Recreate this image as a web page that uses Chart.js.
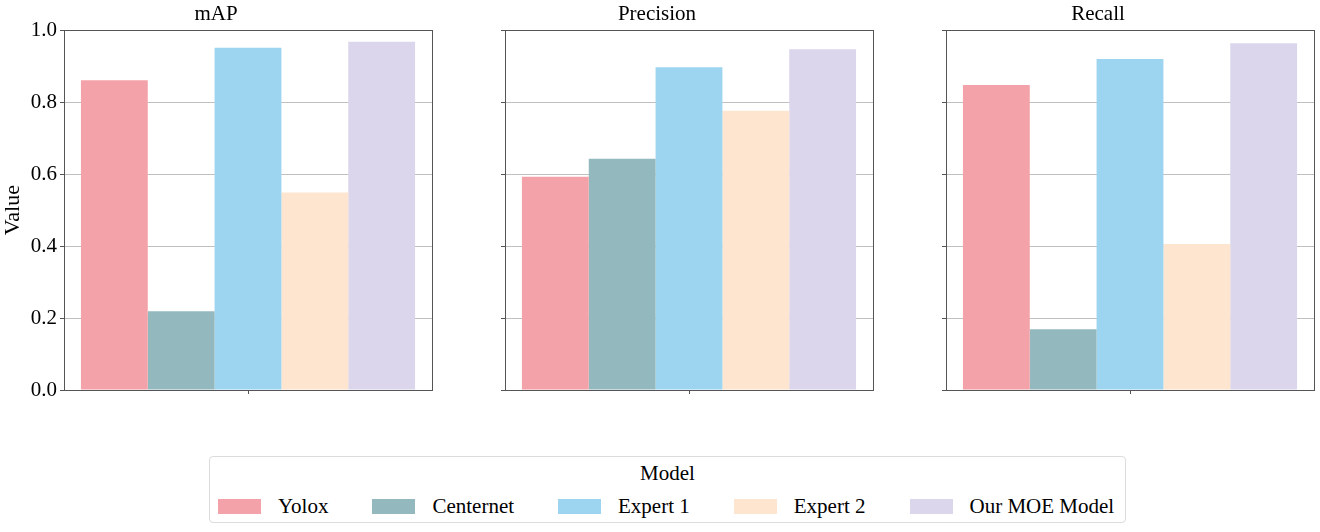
<!DOCTYPE html>
<html>
<head>
<meta charset="utf-8">
<script src="https://cdn.jsdelivr.net/npm/chart.js@4.4.0/dist/chart.umd.min.js"></script>
<style>
  body { margin: 0; width: 1320px; height: 532px; background: #fff; position: relative; overflow: hidden; font-family: "Liberation Serif", "Times New Roman", serif; }
  .panel { position: absolute; top: 0; width: 440px; height: 410px; }
  #legend { position: absolute; left: 209px; top: 456px; width: 917px; height: 67px; border: 1px solid #dcdcdc; border-radius: 4px; box-sizing: border-box; }
  #legend .ltitle { position: absolute; left: 0; right: 0; top: 4px; text-align: center; font-size: 21px; line-height: 24px; color: #000; }
  #legend .litems { position: absolute; left: 8px; top: 37px; display: flex; gap: 44px; font-size: 21px; line-height: 24px; color: #000; white-space: nowrap; }
  #legend .item { display: flex; align-items: center; }
  #legend .patch { width: 43px; height: 15px; margin-right: 17px; }
</style>
</head>
<body>
<div class="panel" style="left:0px"><canvas id="c0" width="440" height="410"></canvas></div>
<div class="panel" style="left:441px"><canvas id="c1" width="440" height="410"></canvas></div>
<div class="panel" style="left:882px"><canvas id="c2" width="440" height="410"></canvas></div>
<div id="legend"><div class="ltitle">Model</div><div class="litems" id="litems"></div></div>

<script>
// values
const models = ['Yolox', 'Centernet', 'Expert 1', 'Expert 2', 'Our MOE Model'];
const metrics = ['mAP', 'Precision', 'Recall'];
const mapValues = [0.861, 0.219, 0.951, 0.549, 0.968];
const precisionValues = [0.593, 0.643, 0.897, 0.776, 0.947];
const recallValues = [0.848, 0.169, 0.920, 0.406, 0.964];
const colors = ['#f2a2a8', '#93b8be', '#9dd5f1', '#fde5cf', '#dbd6eb'];
const yTicks = [0, 0.2, 0.4, 0.6, 0.8, 1.0];

const seriesByMetric = [mapValues, precisionValues, recallValues];
const FONT = '"Liberation Serif", "Times New Roman", serif';

// axes frame on all four sides, like matplotlib
const framePlugin = {
  id: 'frame',
  afterDraw(chart) {
    const a = chart.chartArea;
    const c = chart.ctx;
    c.save();
    c.strokeStyle = '#555';
    c.lineWidth = 1;
    c.strokeRect(Math.round(a.left) + 0.5, Math.round(a.top) + 0.5,
                 Math.round(a.right - a.left), Math.round(a.bottom - a.top));
    c.restore();
  }
};

function makeChart(i) {
  const ctx = document.getElementById('c' + i).getContext('2d');
  const values = seriesByMetric[i];
  const first = i === 0;

  return new Chart(ctx, {
    type: 'bar',
    data: {
      labels: [''],
      datasets: models.map((m, k) => ({
        label: m,
        data: [values[k]],
        backgroundColor: colors[k],
        borderWidth: 0
      }))
    },
    options: {
      responsive: false,
      animation: false,
      devicePixelRatio: 1,
      layout: { padding: { left: 0, right: 8, top: 0, bottom: 0 } },
      datasets: { bar: { categoryPercentage: 0.908, barPercentage: 1.0 } },
      plugins: {
        legend: { display: false },
        tooltip: { enabled: false },
        title: {
          display: true,
          text: metrics[i],
          color: '#000',
          font: { family: FONT, size: 21, weight: 'normal' },
          padding: { top: 2, bottom: 3 }
        }
      },
      scales: {
        x: {
          type: 'category',
          afterFit: s => { s.height = 20; },
          border: { display: false },
          grid: { offset: false, drawOnChartArea: false, drawTicks: true, tickLength: 4, tickColor: '#555' },
          ticks: { display: false }
        },
        y: {
          min: 0,
          max: 1,
          z: 1,
          afterFit: s => { s.width = 64; },
          afterBuildTicks: s => { s.ticks = yTicks.map(v => ({ value: v })); },
          border: { display: false },
          grid: {
            color: c => (c.index === 0 || c.index === yTicks.length - 1) ? 'rgba(0,0,0,0)' : 'rgba(150,150,150,0.6)',
            lineWidth: 1,
            drawTicks: true,
            tickLength: 4,
            tickColor: '#555'
          },
          ticks: {
            display: first,
            color: '#000',
            padding: 3,
            font: { family: FONT, size: 21 },
            callback: v => Number(v).toFixed(1)
          },
          title: {
            display: first,
            text: 'Value',
            color: '#000',
            font: { family: FONT, size: 22 },
            padding: { top: 0, bottom: 4 }
          }
        }
      }
    },
    plugins: [framePlugin]
  });
}

metrics.forEach((m, i) => makeChart(i));

// legend built from the same arrays
const litems = document.getElementById('litems');
models.forEach((m, k) => {
  const item = document.createElement('div');
  item.className = 'item';
  const patch = document.createElement('span');
  patch.className = 'patch';
  patch.style.background = colors[k];
  const txt = document.createElement('span');
  txt.textContent = m;
  item.appendChild(patch);
  item.appendChild(txt);
  litems.appendChild(item);
});
</script>
</body>
</html>
